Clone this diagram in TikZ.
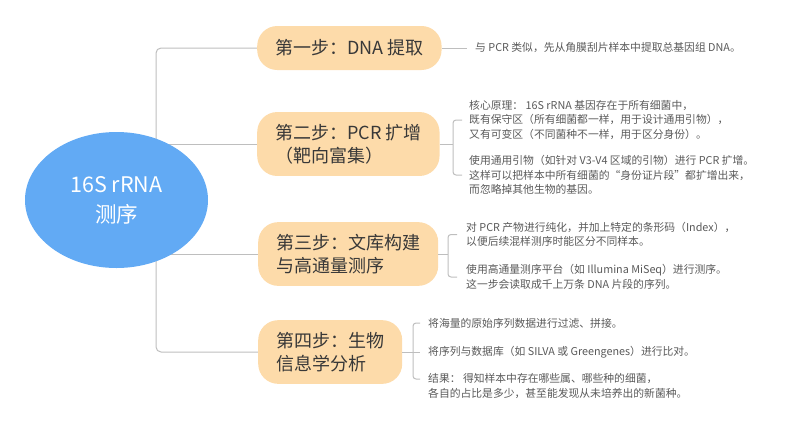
\documentclass[tikz,border=0pt]{standalone}
\usepackage{fontspec}
\setmainfont{Noto Sans CJK SC}
\usepackage{tikz}
\usetikzlibrary{shapes.geometric,backgrounds,calc}
\definecolor{rootblue}{RGB}{98,170,244}
\definecolor{stepfill}{RGB}{253,219,170}
\definecolor{linegray}{RGB}{190,190,190}
\definecolor{infogray}{RGB}{89,89,89}

\begin{document}
\begin{tikzpicture}[x=1pt,y=-1pt,
   root/.style={ellipse,fill=rootblue,text=white,minimum width=183pt,minimum height=136pt,
     inner sep=0pt,align=center,font=\fontsize{21.5}{30}\selectfont},
   stepbox/.style={rounded corners=20pt,fill=stepfill,text=black!78,anchor=west,inner xsep=18pt,
     inner ysep=12pt,minimum height=44pt,align=left,font=\fontsize{18}{23}\selectfont},
   info/.style={anchor=west,inner sep=0pt,align=left,text=infogray,font=\fontsize{10.8}{14.5}\selectfont},
   conn/.style={draw=linegray,line width=1pt}]
  \useasboundingbox (0,0) rectangle (793,424);
  \node[root] (root) at (116.5,200) {16S rRNA\\测序};
  \node[stepbox] (s1) at (257,48)  {第一步：DNA 提取};
  \node[stepbox] (s2) at (257,144) {第二步：PCR 扩增\\（靶向富集）};
  \node[stepbox] (s3) at (258,254) {第三步：文库构建\\与高通量测序};
  \node[stepbox] (s4) at (258,352) {第四步：生物\\信息学分析};
  \node[info] (d1)  at (475,48)    {与 PCR 类似，先从角膜刮片样本中提取总基因组 DNA。};
  \node[info] (d2a) at (469,120)   {核心原理： 16S rRNA 基因存在于所有细菌中，\\既有保守区（所有细菌都一样，用于设计通用引物），\\又有可变区（不同菌种不一样，用于区分身份）。};
  \node[info] (d2b) at (469,175)   {使用通用引物（如针对 V3-V4 区域的引物）进行 PCR 扩增。\\这样可以把样本中所有细菌的“身份证片段”都扩增出来，\\而忽略掉其他生物的基因。};
  \node[info] (d3a) at (466,234.5) {对 PCR 产物进行纯化，并加上特定的条形码（Index），\\以便后续混样测序时能区分不同样本。};
  \node[info] (d3b) at (466,277)   {使用高通量测序平台（如 Illumina MiSeq）进行测序。\\这一步会读取成千上万条 DNA 片段的序列。};
  \node[info] (d4a) at (428,323)   {将海量的原始序列数据进行过滤、拼接。};
  \node[info] (d4b) at (428,352)   {将序列与数据库（如 SILVA 或 Greengenes）进行比对。};
  \node[info] (d4c) at (428,386)   {结果： 得知样本中存在哪些属、哪些种的细菌，\\各自的占比是多少，甚至能发现从未培养出的新菌种。};
  \coordinate (trunk) at (156,200);
  \coordinate (br2) at ([xshift=-16pt]d2a.west);
  \coordinate (br3) at ([xshift=-18pt]d3a.west);
  \begin{scope}[on background layer]
    \draw[conn,rounded corners=5pt] (s1.west) -| (trunk) |- (s4.west);
    \draw[conn] (s2.west) -- (s2.west -| trunk);
    \draw[conn] (s3.west) -- (s3.west -| trunk);
  \end{scope}
  \draw[conn] (s1.east) -- ([xshift=-8pt]d1.west);
  \draw[conn,rounded corners=3pt] ([xshift=-7pt]d2a.west) -| ([xshift=-16pt]d2b.west) -- ([xshift=-7pt]d2b.west);
  \draw[conn] (s2.east) -- (s2.east -| br2);
  \draw[conn,rounded corners=3pt] ([xshift=-9pt]d3a.west) -| ([xshift=-18pt]d3b.west) -- ([xshift=-9pt]d3b.west);
  \draw[conn] (s3.east) -- (s3.east -| br3);
  \draw[conn,rounded corners=3pt] ([xshift=-8pt]d4a.west) -| ([xshift=-15pt,yshift=7pt]d4c.west) -- ([xshift=-8pt,yshift=7pt]d4c.west);
  \draw[conn] (s4.east) -- ([xshift=-8pt]d4b.west);
\end{tikzpicture}
\end{document}
